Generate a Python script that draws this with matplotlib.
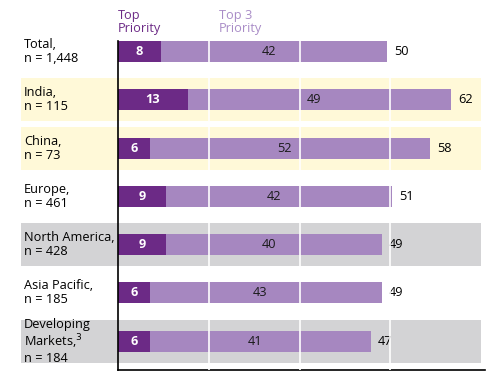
import numpy as np
import matplotlib.pyplot as plt
import matplotlib.transforms as mtransforms
from matplotlib.patches import Rectangle

# data
regions = ["Total,\nn = 1,448", "India,\nn = 115", "China,\nn = 73", "Europe,\nn = 461",
           "North America,\nn = 428", "Asia Pacific,\nn = 185",
           "Developing\nMarkets,$^{3}$\nn = 184"]
top_priority = [8, 13, 6, 9, 9, 6, 6]
top3_rest = [42, 49, 52, 42, 40, 43, 41]
totals = [50, 62, 58, 51, 49, 49, 47]
band_colors = [None, "#FFF9D8", "#FFF9D8", None, "#D3D3D5", None, "#D3D3D5"]

dark = "#6C2A86"
light = "#A687C0"
fs = 9.2

plt.rcParams["font.family"] = ["Open Sans", "DejaVu Sans"]

W, H = 503, 389
fig = plt.figure(figsize=(W / 100, H / 100), dpi=100)
# axes from x=118..481 px, y=41..370 px (from top)
ax = fig.add_axes([118 / W, (H - 370) / H, (481 - 118) / W, (370 - 41) / H])

xmax = 67.5
ax.set_xlim(0, xmax)
ax.set_ylim(6.6, -0.218)

y = np.arange(len(regions))
bh = 0.435

ax.barh(y, top_priority, height=bh, color=dark, zorder=2)
ax.barh(y, top3_rest, left=top_priority, height=bh, color=light, zorder=2)

# background bands, extending left under the labels
trans = mtransforms.blended_transform_factory(ax.transAxes, ax.transData)
x0 = (21 - 118) / (481 - 118)
for yi, c in zip(y, band_colors):
    if c:
        ax.add_patch(Rectangle((x0, yi - 0.445), 1 - x0, 0.89, transform=trans,
                               color=c, zorder=0, clip_on=False, lw=0))

# white vertical gridlines at quarters
for g in [xmax / 4, xmax / 2, 3 * xmax / 4]:
    ax.axvline(g, color="white", lw=1.2, zorder=4, ymin=0, ymax=1)

# labels
for yi, lab, tp, rest, tot in zip(y, regions, top_priority, top3_rest, totals):
    ax.text(x0 + 0.008, yi, lab, transform=trans, ha="left", va="center",
            fontsize=fs, color="black", linespacing=1.1)
    ax.text(tp / 2, yi, str(tp), ha="center", va="center", color="white",
            fontsize=fs, fontweight="bold", zorder=5)
    ax.text(tp + rest / 2 - 1, yi, str(rest), ha="center", va="center",
            color="#1a1a1a", fontsize=fs, zorder=5)
    ax.text(tot + 1.3, yi, str(tot), ha="left", va="center",
            color="black", fontsize=fs)

# column headers
fig.text(118 / W, 1 - 22 / H, "Top\nPriority", ha="left", va="center",
         color=dark, fontsize=fs, linespacing=1.05)
fig.text(219 / W, 1 - 22 / H, "Top 3\nPriority", ha="left", va="center",
         color="#A98CC7", fontsize=fs, linespacing=1.05)

for s in ["top", "right"]:
    ax.spines[s].set_visible(False)
ax.spines["left"].set_linewidth(1.2)
ax.spines["bottom"].set_linewidth(1.2)
ax.spines["bottom"].set_bounds(0, (485 - 118) / 5.38)
ax.set_xticks([])
ax.set_yticks([])
ax.patch.set_alpha(0)

fig.savefig("out.png", dpi=100)
